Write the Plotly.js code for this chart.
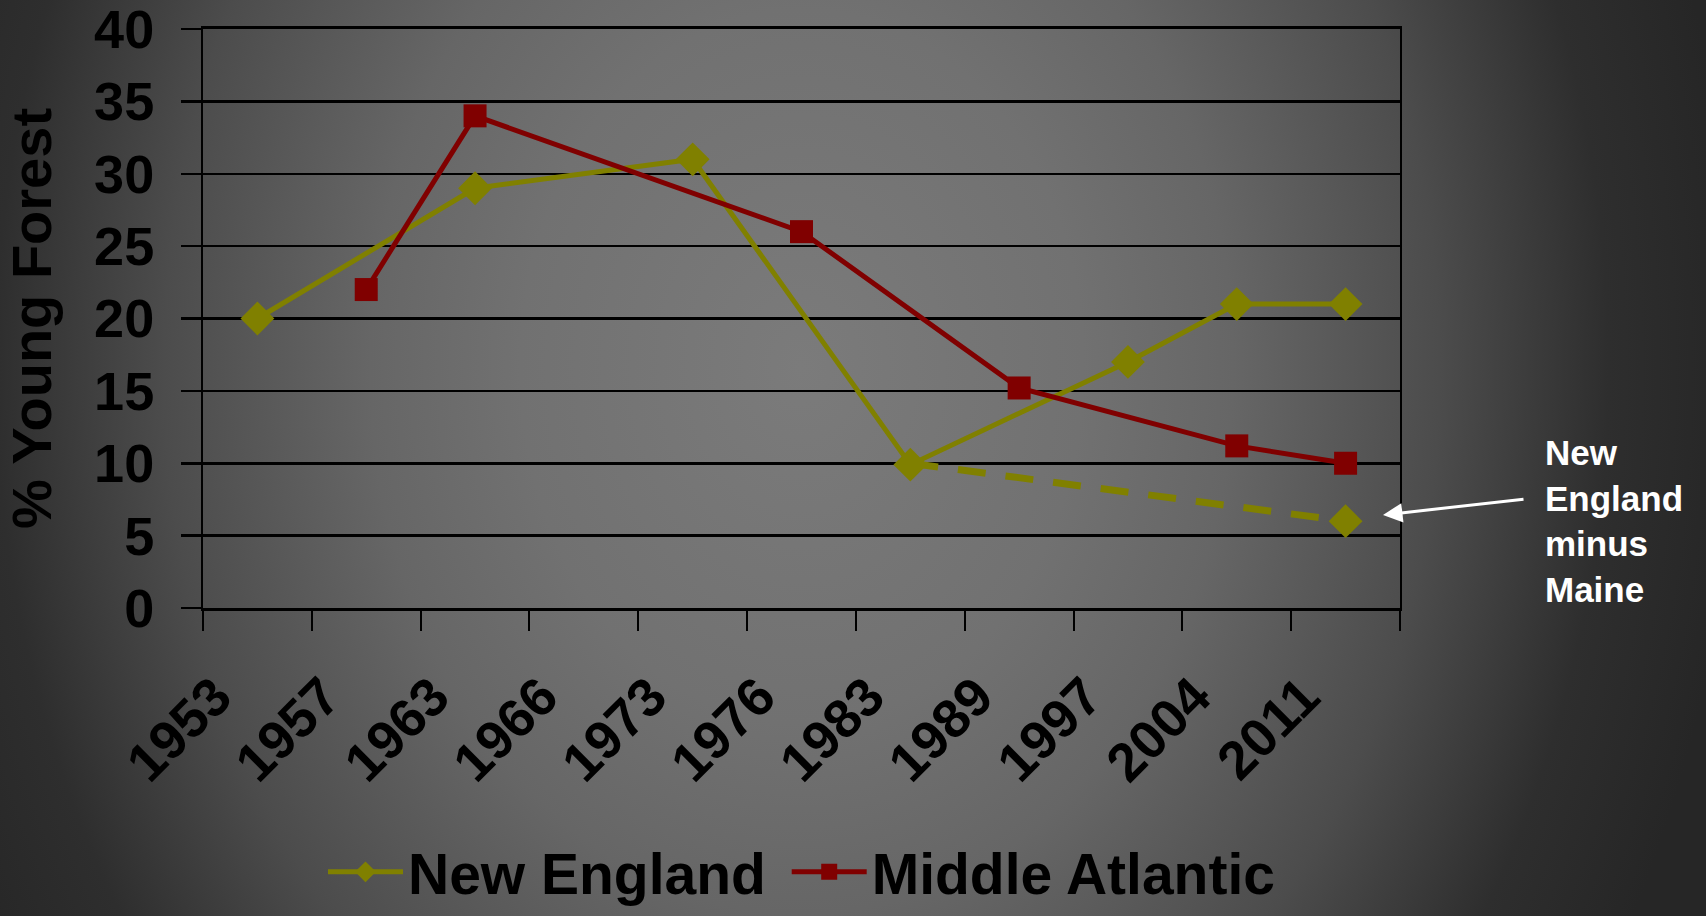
<!DOCTYPE html>
<html>
<head>
<meta charset="utf-8">
<script src="https://cdn.plot.ly/plotly-3.0.1.min.js"></script>
<style>
  html, body { margin: 0; padding: 0; overflow: hidden; }
  #chart {
    width: 1706px; height: 916px;
    background: radial-gradient(ellipse 938px 1190px at 47% 40%, #7b7b7b 0%, #717171 30%, #666666 46%, #4c4c4c 68%, #2e2e2e 86%, #262626 100%);
  }
</style>
</head>
<body>
<div id="chart"></div>
<script>
const years = ["1953","1957","1963","1966","1973","1976","1983","1989","1997","2004","2011"];
const newEngland = [20, null, 29, null, 31, null, 9.9, null, 17, 21, 21];
const middleAtlantic = [null, 22, 34, null, null, 26, null, 15.2, null, 11.2, 10];
const neMinusMaine = [null, null, null, null, null, null, 10, null, null, null, 6];

const FONT = '"Liberation Sans", Arial, sans-serif';
const olive = '#808000';
const maroon = '#800000';

const traces = [
  {
    x: years, y: neMinusMaine, type: 'scatter', mode: 'lines+markers',
    connectgaps: true, showlegend: false, hoverinfo: 'skip',
    line: { color: olive, width: 7, dash: '28px,20px' },
    marker: { symbol: 'diamond', size: [0,0,0,0,0,0,0,0,0,0,26], color: olive, opacity: 1, line: { width: 0 } }
  },
  {
    x: years, y: newEngland, type: 'scatter', mode: 'lines+markers',
    name: 'New England\u00a0', connectgaps: true,
    line: { color: olive, width: 5 },
    marker: { symbol: 'diamond', size: 26, color: olive, line: { width: 0 } }
  },
  {
    x: years, y: middleAtlantic, type: 'scatter', mode: 'lines+markers',
    name: 'Middle Atlantic', connectgaps: true,
    line: { color: maroon, width: 5 },
    marker: { symbol: 'square', size: 23, color: maroon, line: { width: 0 } }
  }
];

const layout = {
  width: 1706, height: 916,
  margin: { l: 203, r: 306, t: 29, b: 308, autoexpand: false },
  paper_bgcolor: 'rgba(0,0,0,0)',
  plot_bgcolor: 'rgba(0,0,0,0)',
  font: { family: FONT, color: '#000000' },
  showlegend: true,
  legend: {
    orientation: 'h', x: 0.5, xanchor: 'center', y: -0.4565, yanchor: 'middle',
    font: { family: FONT, size: 57, color: '#000000', weight: 'bold' },
    bgcolor: 'rgba(0,0,0,0)', itemwidth: 75
  },
  xaxis: {
    type: 'category', categoryorder: 'array', categoryarray: years,
    range: [-0.5, 10.5],
    showline: true, linecolor: '#000000', linewidth: 3, mirror: true,
    showgrid: false, zeroline: false,
    ticks: 'outside', tickson: 'boundaries', ticklen: 20, tickwidth: 2, tickcolor: '#000000',
    tickangle: -45,
    tickfont: { family: FONT, size: 54, color: '#000000', weight: 'bold' },
    ticklabelstandoff: 32, ticklabelshift: -42, ticklabeloverflow: 'allow',
    automargin: false
  },
  yaxis: {
    range: [0, 40], tickmode: 'linear', tick0: 0, dtick: 5,
    showline: true, linecolor: '#000000', linewidth: 2, mirror: true,
    showgrid: true, gridcolor: '#000000', gridwidth: 2.5,
    zeroline: false,
    ticks: 'outside', ticklen: 20, tickwidth: 2.5, tickcolor: '#000000',
    tickfont: { family: FONT, size: 54, color: '#000000', weight: 'bold' },
    ticklabelstandoff: 16, ticklabeloverflow: 'allow',
    title: { text: '\u2009% Young Forest', font: { family: FONT, size: 56, color: '#000000', weight: 'bold' }, standoff: 30 },
    automargin: false
  },
  annotations: [
    {
      xref: 'paper', yref: 'paper', x: 1.1195, y: 0.151,
      xanchor: 'left', yanchor: 'middle', align: 'left',
      text: 'New<br>England<br>minus<br>Maine', showarrow: false,
      font: { family: FONT, size: 35, color: '#ffffff', weight: 'bold' }
    },
    {
      xref: 'paper', yref: 'paper', x: (1383 - 203) / 1197, y: (608 - 515) / 579,
      text: '', showarrow: true, arrowhead: 2, arrowsize: 1.3, arrowwidth: 3,
      arrowcolor: '#ffffff', ax: 142, ay: -16, standoff: 0
    }
  ]
};

Plotly.newPlot('chart', traces, layout, { displayModeBar: false, staticPlot: true });
</script>
</body>
</html>
